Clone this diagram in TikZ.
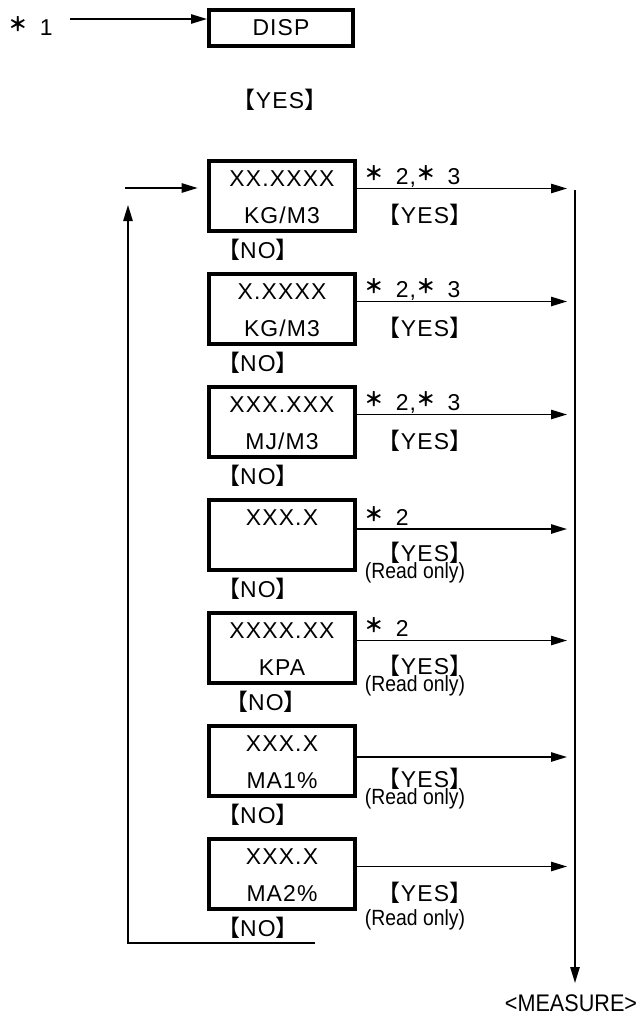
\documentclass[tikz,border=0pt]{standalone}
\usepackage{graphicx}
\usepackage{fontspec}
\setmainfont{Liberation Sans}[LetterSpace=5]
\newfontfamily\plainsans{Liberation Sans}
\newfontfamily\cjk{Noto Sans CJK JP}
\usetikzlibrary{arrows.meta}
\newcommand\fsz{\fontsize{17.2}{20}\selectfont}
\newcommand\astk{\raisebox{3pt}{\scalebox{0.85}{\cjk\bfseries ＊}}\hspace*{9pt}}
\newcommand\brk[1]{{\cjk 【}#1{\cjk 】}}
\newcommand\ronly{\scalebox{0.88}[1]{\plainsans\fontsize{16.5}{19}\selectfont (Read only)}}

\begin{document}
\begin{tikzpicture}[x=0.75pt,y=0.75pt,yscale=-1,xscale=1,
  valbox/.style={draw,line width=3pt,minimum width=109.5pt,minimum height=52.5pt,inner sep=0pt},
  dispbox/.style={valbox,minimum width=108pt,minimum height=27pt,font=\fsz},
  txt/.style={inner sep=0pt,anchor=base,font=\fsz},
  lbl/.style={inner sep=0pt,anchor=base west,font=\fsz},
  note/.style={inner sep=0pt,anchor=base},
  flow/.style={line width=1.2pt,-{Triangle[length=12pt,width=7pt]}},
  wire/.style={line width=1.2pt}]
\useasboundingbox (0,0) rectangle (643,1021);

% Start
\node [lbl] (st1) at (8,35) {\astk 1};
\node [dispbox] (disp) at (281,28) {DISP};
\coordinate (s1) at (70,19);
\draw [flow] (s1) -- (s1 -| disp.west);
\node [txt] (yes0) at (280,108) {\brk{YES}};

% Boxes
\node [valbox] (b1) at (282,195.5) {};
\node [valbox] (b2) at (282,308.5) {};
\node [valbox] (b3) at (282,421.5) {};
\node [valbox] (b4) at (282,534.5) {};
\node [valbox] (b5) at (282,647.5) {};
\node [valbox] (b6) at (282,760.5) {};
\node [valbox] (b7) at (282,873.5) {};

% Text Node
\node [txt] (v1) at (282,186) {XX.XXXX};
\node [txt] (u1) at (282,223.5) {KG/M3};
\node [txt] (v2) at (282,299) {X.XXXX};
\node [txt] (u2) at (282,336.5) {KG/M3};
\node [txt] (v3) at (282,412) {XXX.XXX};
\node [txt] (u3) at (282,449.5) {MJ/M3};
\node [txt] (v4) at (282,525) {XXX.X};
\node [txt] (v5) at (282,638) {XXXX.XX};
\node [txt] (u5) at (282,675.5) {KPA};
\node [txt] (v6) at (282,751) {XXX.X};
\node [txt] (u6) at (282,788.5) {MA1\%};
\node [txt] (v7) at (282,864) {XXX.X};
\node [txt] (u7) at (282,901.5) {MA2\%};

% Notes
\node [lbl] (n1) at (364,184.5) {\astk 2,\astk 3};
\node [lbl] (n2) at (364,297.5) {\astk 2,\astk 3};
\node [lbl] (n3) at (364,410.5) {\astk 2,\astk 3};
\node [lbl] (n4) at (364,525) {\astk 2};
\node [lbl] (n5) at (364,636.5) {\astk 2};

% YES / NO
\node [txt] (y1) at (425,223.5) {\brk{YES}};
\node [txt] (y2) at (425,336.5) {\brk{YES}};
\node [txt] (y3) at (425,449.5) {\brk{YES}};
\node [txt] (y4) at (425,561.5) {\brk{YES}};
\node [note] (r4) at (415,578.5) {\ronly};
\node [txt] (y5) at (425,674.5) {\brk{YES}};
\node [note] (r5) at (415,691.5) {\ronly};
\node [txt] (y6) at (425,787.5) {\brk{YES}};
\node [note] (r6) at (415,804.5) {\ronly};
\node [txt] (y7) at (425,901.5) {\brk{YES}};
\node [note] (r7) at (415,925.5) {\ronly};

\node [txt] (no1) at (258,258.5) {\brk{NO}};
\node [txt] (no2) at (258,371.5) {\brk{NO}};
\node [txt] (no3) at (258,484.5) {\brk{NO}};
\node [txt] (no4) at (258,597.5) {\brk{NO}};
\node [txt] (no5) at (266,710.5) {\brk{NO}};
\node [txt] (no6) at (258,823.5) {\brk{NO}};
\node [txt] (no7) at (258,936.5) {\brk{NO}};

% Straight Lines: to collector
\coordinate (o1) at (567,188.5);
\coordinate (o2) at (567,301.5);
\coordinate (o3) at (567,414.5);
\coordinate (o4) at (567,529);
\coordinate (o5) at (567,640.5);
\coordinate (o6) at (567,757);
\coordinate (o7) at (567,866.5);
\draw [flow] (o1 -| b1.east) -- (o1);
\draw [flow] (o2 -| b2.east) -- (o2);
\draw [flow] (o3 -| b3.east) -- (o3);
\draw [flow] (o4 -| b4.east) -- (o4);
\draw [flow] (o5 -| b5.east) -- (o5);
\draw [flow] (o6 -| b6.east) -- (o6);
\draw [flow] (o7 -| b7.east) -- (o7);

% Collector
\node [note,font=\plainsans\fontsize{18}{21}\selectfont] (meas) at (571,1011) {\scalebox{0.9}[1]{<MEASURE>}};
\coordinate (ctop) at (575,190);
\coordinate (cend) at (575,983);
\draw [flow] (ctop) -- (cend);

% Loop back
\coordinate (lend) at (315,943);
\coordinate (lcor) at (128,943);
\coordinate (ltip) at (128,205);
\draw [flow] (lend) -- (lcor) -- (ltip);
\coordinate (lin) at (125,188);
\draw [flow,shorten >=7pt] (lin) -- (lin -| b1.west);

\end{tikzpicture}
\end{document}
